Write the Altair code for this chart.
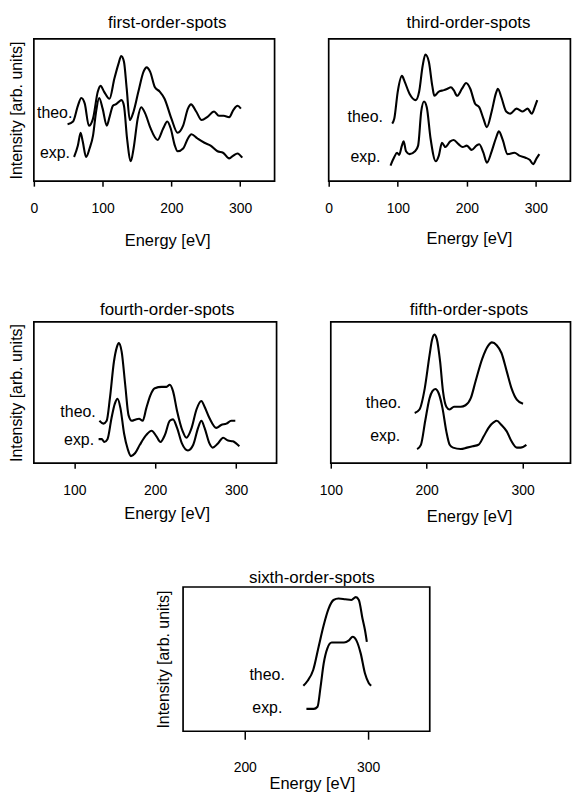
import altair as alt
import pandas as pd

FONT = "Liberation Sans"

# ---------------- data (energy in eV, intensity in arbitrary units) ----------------
# first-order-spots
p1_theo_E = [49, 57, 64, 69, 74, 80, 86, 93, 97, 102, 110, 117, 123, 127, 131, 135, 139.5, 145, 152, 159.5,
             164, 169, 176, 183, 190, 200, 209, 217, 224, 228.5, 236, 244, 252, 262, 269, 276, 284, 290, 296, 301]
p1_theo_I = [0.40, 0.42, 0.53, 0.585, 0.545, 0.39, 0.44, 0.63, 0.67, 0.63, 0.58, 0.72, 0.825, 0.88, 0.84, 0.65, 0.43, 0.49, 0.63, 0.77,
             0.80, 0.77, 0.66, 0.63, 0.58, 0.44, 0.34, 0.39, 0.51, 0.54, 0.49, 0.43, 0.45, 0.49, 0.46, 0.46, 0.45, 0.50, 0.53, 0.51]
p1_exp_E = [58.5, 64, 68, 71, 76, 81, 86, 90.5, 95, 100, 106, 110, 115, 119, 124, 127.5, 131, 135.5, 141, 145,
            151, 156, 162, 169, 180, 188, 194, 199, 205, 209, 217, 224, 229, 238, 248, 257, 267, 275, 284, 290, 296, 303]
p1_exp_I = [0.17, 0.25, 0.34, 0.28, 0.17, 0.23, 0.32, 0.49, 0.585, 0.51, 0.39, 0.45, 0.53, 0.54, 0.56, 0.57, 0.53, 0.30, 0.14, 0.23,
            0.44, 0.52, 0.475, 0.38, 0.29, 0.37, 0.42, 0.37, 0.25, 0.21, 0.23, 0.30, 0.33, 0.30, 0.27, 0.25, 0.21, 0.20, 0.16, 0.18, 0.195, 0.165]

# third-order-spots
p2_theo_E = [92, 95, 100, 106, 110, 117, 126, 131, 136, 140, 145, 150, 153, 159.5, 167, 172, 177, 181, 186, 193,
             199, 205, 212, 218, 224, 229, 236, 242, 245, 250, 257, 263, 272, 281, 288, 294, 299, 302]
p2_theo_I = [0.405, 0.44, 0.63, 0.74, 0.70, 0.615, 0.57, 0.63, 0.81, 0.89, 0.84, 0.67, 0.60, 0.63, 0.64, 0.65, 0.66, 0.64, 0.60, 0.65,
             0.69, 0.65, 0.545, 0.52, 0.44, 0.38, 0.49, 0.615, 0.65, 0.59, 0.49, 0.475, 0.51, 0.49, 0.51, 0.475, 0.53, 0.57]
p2_exp_E = [89.5, 95, 99, 102, 106, 108.5, 112, 117, 125, 129.5, 134, 138, 142, 147.5, 155, 159.5, 164, 169, 176, 181,
            188, 194, 200, 207, 214, 218, 224, 229, 236, 242, 246.5, 252, 259, 269, 276, 285, 291, 296, 301, 305]
p2_exp_I = [0.11, 0.17, 0.20, 0.185, 0.25, 0.28, 0.21, 0.19, 0.21, 0.25, 0.49, 0.56, 0.52, 0.30, 0.14, 0.18, 0.27, 0.24, 0.28, 0.29,
            0.26, 0.24, 0.25, 0.22, 0.25, 0.26, 0.20, 0.13, 0.21, 0.30, 0.35, 0.29, 0.19, 0.20, 0.18, 0.165, 0.15, 0.12, 0.16, 0.19]

# fourth-order-spots
p3_theo_E = [131, 136, 140, 144, 149, 152.5, 155, 158.5, 163, 167, 171, 176, 180, 184.5, 189, 194, 199.5, 208, 214, 218,
             222, 227, 234, 238.5, 245, 251, 257, 261, 267, 275.5, 281.5, 288, 294, 299]
p3_theo_I = [0.30, 0.28, 0.30, 0.46, 0.72, 0.82, 0.85, 0.79, 0.55, 0.34, 0.30, 0.31, 0.315, 0.30, 0.39, 0.48, 0.53, 0.54, 0.54, 0.555,
             0.51, 0.37, 0.225, 0.18, 0.25, 0.38, 0.44, 0.40, 0.32, 0.25, 0.27, 0.28, 0.30, 0.30]
p3_exp_E = [130, 134, 137, 141, 146, 150, 153.5, 157, 161.5, 166, 170, 175, 181, 189, 195.5, 201.5, 206.5, 212, 218, 222,
            227, 233, 240.5, 247, 253, 257, 261, 267, 271, 277.5, 284, 290, 296, 300, 304]
p3_exp_I = [0.17, 0.17, 0.15, 0.17, 0.32, 0.42, 0.455, 0.39, 0.21, 0.10, 0.05, 0.07, 0.13, 0.20, 0.23, 0.19, 0.15, 0.20, 0.30, 0.31,
            0.25, 0.14, 0.09, 0.13, 0.25, 0.30, 0.25, 0.14, 0.11, 0.14, 0.18, 0.16, 0.155, 0.14, 0.12]

# fifth-order-spots
p4_theo_E = [187.5, 192.5, 198, 203, 205.5, 208, 210.5, 214, 217, 220.5, 224, 228.5, 235.5, 240.5, 246,
             251, 258, 264, 268, 273, 278, 283.5, 288.5, 294, 300.5]
p4_theo_I = [0.355, 0.38, 0.53, 0.765, 0.87, 0.91, 0.88, 0.72, 0.51, 0.40, 0.38, 0.40, 0.40, 0.41, 0.46,
             0.58, 0.74, 0.83, 0.855, 0.835, 0.78, 0.65, 0.53, 0.45, 0.42]
p4_exp_E = [190, 194, 198.5, 203, 206, 209, 212.5, 216.5, 220.5, 224, 227.5, 235.5, 242, 248, 254,
            259.5, 264.5, 270, 273, 278, 283.5, 288.5, 294, 298, 304]
p4_exp_I = [0.10, 0.13, 0.30, 0.46, 0.51, 0.525, 0.495, 0.39, 0.225, 0.13, 0.11, 0.10, 0.11, 0.12, 0.13,
            0.19, 0.25, 0.29, 0.30, 0.27, 0.225, 0.155, 0.11, 0.11, 0.13]

# sixth-order-spots
p5_theo_E = [247.5, 251, 255.5, 260, 264, 268, 272, 276, 281.5, 286.5, 290, 292.5, 295.5, 297.5, 299]
p5_theo_I = [0.315, 0.35, 0.425, 0.59, 0.735, 0.85, 0.91, 0.92, 0.915, 0.91, 0.93, 0.91, 0.78, 0.70, 0.62]
p5_exp_E = [250, 256, 259, 261.5, 264, 267, 270.5, 275, 280.5, 284.5, 287.5, 290.5, 294, 297.5, 300.5, 302.5]
p5_exp_I = [0.155, 0.155, 0.17, 0.31, 0.47, 0.575, 0.615, 0.615, 0.615, 0.63, 0.655, 0.63, 0.54, 0.40, 0.335, 0.315]

# curve labels ("theo.", "exp."): right end energy and baseline intensity
label_text = ["theo.", "exp."]
p1_label_E, p1_label_I = [56, 52.5], [0.445, 0.165]
p2_label_E, p2_label_I = [78.5, 75], [0.417, 0.133]
p3_label_E, p3_label_I = [126.5, 124.5], [0.326, 0.131]
p4_label_E, p4_label_I = [173.5, 172.5], [0.394, 0.16]
p5_label_E, p5_label_I = [232.5, 230.5], [0.356, 0.126]

x_ticks_a = [0, 100, 200, 300]
x_ticks_b = [100, 200, 300]
x_ticks_c = [200, 300]


def panel(title, te, ti, ee, ei, lab_e, lab_i, xdom, xticks, w, h, ytitle,
          t_dx, t_off, ax_tx, ax_ty, ay_tx, tick_size=5, label_pad=15):
    df = pd.DataFrame({"E": list(te) + list(ee), "I": list(ti) + list(ei),
                       "s": ["theo."] * len(te) + ["exp."] * len(ee)})
    ldf = pd.DataFrame({"E": lab_e, "I": lab_i, "s": label_text})
    xaxis = alt.Axis(values=xticks, title="Energy [eV]", grid=False, domain=False,
                     ticks=True, tickSize=tick_size, tickWidth=1.5, tickColor="black",
                     labelFont=FONT, labelFontSize=14, labelColor="black", labelPadding=label_pad,
                     labelFlush=False, labelOverlap=False,
                     titleFont=FONT, titleFontSize=16.5, titleFontWeight="normal", titleColor="black",
                     titleX=ax_tx, titleY=ax_ty, titleBaseline="top", titleAlign="center")
    if ytitle:
        yaxis = alt.Axis(title="Intensity [arb. units]", labels=False, ticks=False, domain=False, grid=False,
                         titleFont=FONT, titleFontSize=16, titleFontWeight="normal", titleColor="black",
                         titleX=ay_tx, titleY=h / 2, titleAngle=270, titleBaseline="bottom",
                         titleAlign="center")
    else:
        yaxis = None
    x = alt.X("E:Q", scale=alt.Scale(domain=xdom, nice=False, zero=False), axis=xaxis)
    y = alt.Y("I:Q", scale=alt.Scale(domain=[0, 1], nice=False, zero=False), axis=yaxis)
    line = alt.Chart(df).mark_line(color="black", strokeWidth=2.1, interpolate="monotone").encode(
        x=x, y=y, detail="s:N")
    text = alt.Chart(ldf).mark_text(align="right", baseline="alphabetic", font=FONT, fontSize=16,
                                    color="black").encode(x=x, y=y, text="s:N")
    return alt.layer(line, text).properties(
        width=w, height=h,
        title=alt.TitleParams(text=title, font=FONT, fontSize=17, fontWeight="normal", color="black",
                              anchor="middle", dx=t_dx, offset=t_off))


p1 = panel("first-order-spots", p1_theo_E, p1_theo_I, p1_exp_E, p1_exp_I, p1_label_E, p1_label_I,
           [0, 350], x_ticks_a, 242, 143, True, 13, 6.5, 134, 52, -9)
p2 = panel("third-order-spots", p2_theo_E, p2_theo_I, p2_exp_E, p2_exp_I, p2_label_E, p2_label_I,
           [0, 350], x_ticks_a, 243, 143, False, 19, 6.5, 141, 50, -9)
p3 = panel("fourth-order-spots", p3_theo_E, p3_theo_I, p3_exp_E, p3_exp_I, p3_label_E, p3_label_I,
           [50, 350], x_ticks_b, 244, 142, True, 12, 2.5, 133.5, 43, -9)
p4 = panel("fifth-order-spots", p4_theo_E, p4_theo_I, p4_exp_E, p4_exp_I, p4_label_E, p4_label_I,
           [100, 350], x_ticks_b, 241, 142, False, 18.5, 2.5, 139, 45.5, -9)
p5 = panel("sixth-order-spots", p5_theo_E, p5_theo_I, p5_exp_E, p5_exp_I, p5_label_E, p5_label_I,
           [150, 350], x_ticks_c, 248, 145, True, 5.5, 0, 129.5, 45, -12, tick_size=8, label_pad=21)

spacer = alt.Chart(pd.DataFrame({"a": [0]})).mark_point(opacity=0).encode(
    x=alt.X("a:Q", axis=None), y=alt.Y("a:Q", axis=None)
).properties(width=1, height=1, view=alt.ViewBackground(strokeOpacity=0))

row1 = alt.hconcat(p1, p2, spacing=48.4)
row2 = alt.hconcat(p3, p4, spacing=40.5)
row3 = alt.hconcat(spacer, p5, spacing=117)
upper = alt.vconcat(row1, row2, spacing=49.5)

chart = alt.vconcat(upper, row3, spacing=42).properties(
    padding={"left": 0, "top": 3, "right": 0, "bottom": 0}
).configure_view(stroke="black", strokeWidth=1.7)

chart.save("out.html", embed_options={"renderer": "svg", "actions": False})
